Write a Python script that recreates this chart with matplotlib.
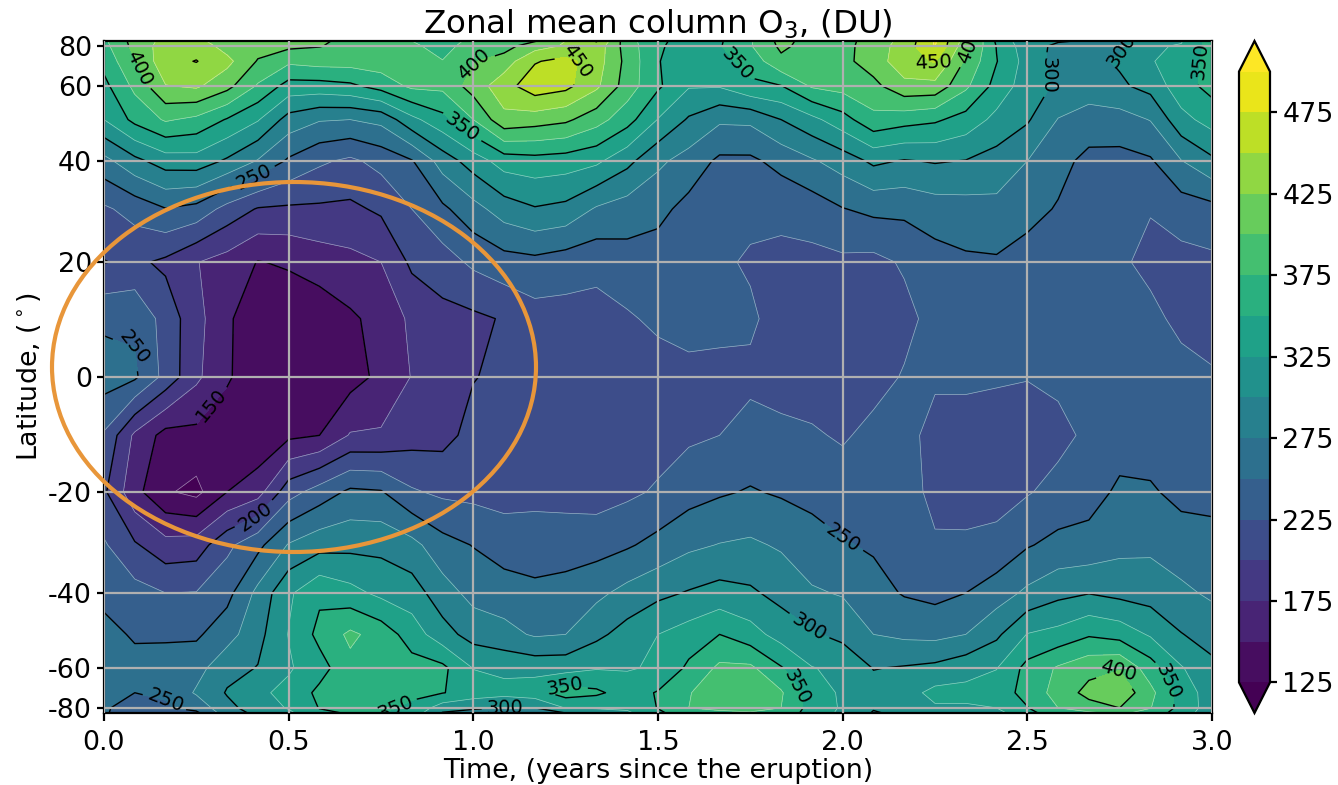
import numpy as np
import matplotlib
matplotlib.use("Agg")
import matplotlib.pyplot as plt
from matplotlib.patches import Ellipse

# monthly columns, three years
months = list(range(37))
lats = [90, 80, 70, 60, 50, 40, 30, 20, 10, 0, -10, -20, -30, -40, -50, -60, -70, -80, -90]

# column ozone, DU, one row per latitude: even months (0, 2, 4 ...)
o3_even = [
    [370, 432, 410, 405, 395, 375, 382, 398, 452, 355, 347, 408, 390, 432, 412, 305, 298, 323, 362],
    [367, 437, 415, 405, 393, 380, 388, 415, 440, 353, 348, 405, 392, 436, 408, 310, 295, 322, 360],
    [358, 442, 432, 380, 385, 388, 398, 448, 437, 351, 341, 394, 393, 440, 396, 315, 293, 323, 358],
    [343, 424, 408, 340, 345, 380, 411, 465, 430, 354, 327, 349, 384, 418, 380, 312, 288, 308, 358],
    [325, 378, 348, 290, 275, 318, 375, 412, 385, 324, 279, 300, 340, 360, 340, 303, 264, 276, 335],
    [267, 312, 296, 246, 220, 248, 312, 340, 330, 280, 245, 258, 286, 298, 299, 275, 243, 247, 295],
    [221, 249, 216, 196, 195, 225, 266, 298, 272, 257, 232, 231, 249, 256, 265, 258, 236, 226, 242],
    [199, 195, 165, 153, 168, 205, 230, 243, 233, 238, 229, 219, 220, 228, 246, 240, 233, 220, 220],
    [245, 215, 153, 133, 146, 180, 195, 215, 215, 230, 228, 215, 212, 218, 235, 232, 232, 230, 213],
    [262, 217, 153, 130, 140, 176, 199, 208, 210, 214, 222, 215, 216, 227, 228, 226, 232, 235, 228],
    [222, 141, 135, 145, 177, 190, 208, 212, 213, 215, 225, 231, 222, 232, 218, 212, 230, 238, 232],
    [204, 128, 150, 215, 255, 228, 218, 218, 214, 228, 247, 247, 238, 236, 215, 223, 241, 253, 243],
    [228, 184, 219, 277, 293, 283, 249, 237, 240, 258, 276, 272, 252, 240, 229, 248, 258, 270, 258],
    [243, 225, 242, 321, 333, 312, 267, 256, 269, 294, 309, 292, 273, 248, 250, 280, 299, 289, 271],
    [258, 246, 265, 326, 380, 338, 290, 272, 294, 325, 350, 315, 293, 270, 275, 326, 347, 322, 290],
    [263, 262, 292, 322, 368, 360, 324, 316, 323, 328, 380, 352, 320, 302, 316, 358, 392, 362, 306],
    [256, 253, 302, 332, 360, 355, 340, 340, 355, 352, 385, 378, 322, 315, 332, 358, 408, 382, 312],
    [252, 247, 293, 327, 355, 345, 302, 300, 327, 351, 378, 375, 322, 312, 322, 349, 390, 376, 312],
    [252, 243, 288, 320, 352, 340, 295, 290, 315, 345, 372, 368, 320, 305, 318, 342, 370, 365, 308],
]
# odd months (1, 3, 5 ...)
o3_odd = [
    [410, 432, 410, 403, 385, 362, 385, 425, 385, 340, 372, 390, 412, 478, 346, 302, 292, 323],
    [408, 440, 410, 401, 386, 365, 390, 428, 388, 340, 373, 390, 412, 476, 349, 295, 296, 327],
    [398, 451, 398, 385, 388, 376, 412, 458, 392, 338, 360, 388, 412, 452, 351, 290, 303, 337],
    [381, 429, 372, 340, 360, 381, 440, 457, 388, 327, 345, 378, 393, 417, 341, 296, 296, 340],
    [357, 369, 327, 277, 282, 342, 418, 405, 360, 297, 280, 318, 368, 354, 318, 274, 265, 317],
    [293, 314, 273, 229, 233, 286, 336, 337, 307, 265, 245, 272, 305, 302, 290, 258, 242, 274],
    [234, 242, 198, 196, 204, 245, 287, 293, 263, 242, 231, 237, 256, 263, 268, 248, 231, 237],
    [205, 176, 149, 162, 175, 214, 240, 237, 240, 233, 222, 218, 218, 240, 247, 238, 228, 217],
    [246, 184, 138, 134, 158, 192, 202, 216, 222, 229, 229, 213, 213, 233, 235, 230, 232, 220],
    [254, 180, 135, 130, 156, 186, 205, 208, 212, 222, 220, 213, 216, 228, 228, 230, 234, 232],
    [170, 143, 130, 150, 178, 192, 210, 213, 215, 221, 233, 228, 232, 218, 212, 218, 240, 235],
    [158, 118, 165, 236, 252, 220, 216, 215, 220, 240, 252, 243, 241, 218, 216, 233, 254, 243],
    [203, 187, 243, 291, 293, 259, 238, 240, 247, 270, 279, 260, 247, 228, 232, 257, 268, 262],
    [234, 226, 282, 345, 319, 286, 262, 258, 283, 302, 304, 278, 259, 243, 263, 293, 293, 280],
    [247, 246, 292, 357, 365, 310, 283, 275, 310, 336, 335, 303, 275, 268, 295, 333, 340, 301],
    [258, 266, 301, 340, 368, 356, 319, 316, 323, 355, 380, 326, 299, 306, 324, 378, 398, 327],
    [250, 278, 320, 356, 362, 351, 333, 362, 338, 374, 392, 335, 310, 332, 338, 385, 418, 340],
    [243, 258, 312, 351, 355, 312, 300, 326, 330, 375, 385, 340, 302, 322, 325, 375, 400, 342],
    [240, 245, 306, 345, 350, 298, 288, 300, 320, 365, 372, 338, 298, 315, 317, 365, 380, 338],
]

fill_levels = list(range(125, 501, 25))
line_levels = list(range(150, 451, 50))
lat_ticks = [80, 60, 40, 20, 0, -20, -40, -60, -80]
cbar_ticks = list(range(125, 476, 50))

# where the contour labels sit, (years, sin of latitude)
label_spots = [(.097, .92), (.40, .61), (1.0, .93), (1.29, .958), (.964, .735), (1.709, .926),
               (2.245, .9375), (2.345, .985), (2.608, .908), (2.751, .973), (2.941, .943),
               (.097, .122), (.33, -.119), (.40, -.39), (.179, -.94), (.788, -.985),
               (1.086, -.976), (1.243, -.911), (1.998, -.485), (1.906, -.747), (1.893, -.908),
               (2.746, -.872), (2.881, -.908)]

o3 = np.zeros((len(lats), len(months)))
o3[:, ::2] = o3_even
o3[:, 1::2] = o3_odd

W, H = 1338., 785.
fig = plt.figure(figsize=(W/200, H/200), dpi=200)
ax = fig.add_axes([104/W, 1-713/H, 1108/W, 672/H])

t = np.array(months)/12.
y = np.sin(np.radians(lats))
cf = ax.contourf(t, y, o3, levels=fill_levels, cmap="viridis", extend="both")
ax.contour(t, y, o3, levels=[l for l in fill_levels if l not in line_levels],
           colors="white", linewidths=0.25, alpha=0.5)
cs = ax.contour(t, y, o3, levels=line_levels, colors="k", linewidths=0.5)
ax.clabel(cs, fmt="%d", fontsize=7, manual=label_spots)

ax.set_xlim(0, 3)
ax.set_ylim(-1, 1)
ax.set_xticks([0, .5, 1, 1.5, 2, 2.5, 3])
ax.set_yticks(np.sin(np.radians(lat_ticks)))
ax.set_yticklabels([str(l) for l in lat_ticks])
ax.tick_params(axis="x", labelsize=9.7, length=3, pad=3)
ax.tick_params(axis="y", labelsize=9.7, length=2.6, pad=1.8)
ax.grid(True, color="#b0b0b0", linewidth=0.8)
ax.set_axisbelow(False)
ax.set_xlabel("Time, (years since the eruption)", fontsize=9.7, labelpad=1)
ax.set_ylabel(r"Latitude, ($^\circ$)", fontsize=9.7, labelpad=1.7)
ax.set_title(r"Zonal mean column O$_3$, (DU)", fontsize=11.7, pad=2.7)

cax = fig.add_axes([1239/W, 1-713/H, 31/W, 672/H])
cb = fig.colorbar(cf, cax=cax, ticks=cbar_ticks)
cb.ax.tick_params(labelsize=9.7, length=2.6, pad=1.8)

# the circled region around the tropical ozone loss
fig.add_artist(Ellipse((294/W, 1-367/H), 484/W, 370/H, transform=fig.transFigure,
                       fill=False, edgecolor="#e8963a", linewidth=1.5))

fig.savefig("out.png", dpi=200)
